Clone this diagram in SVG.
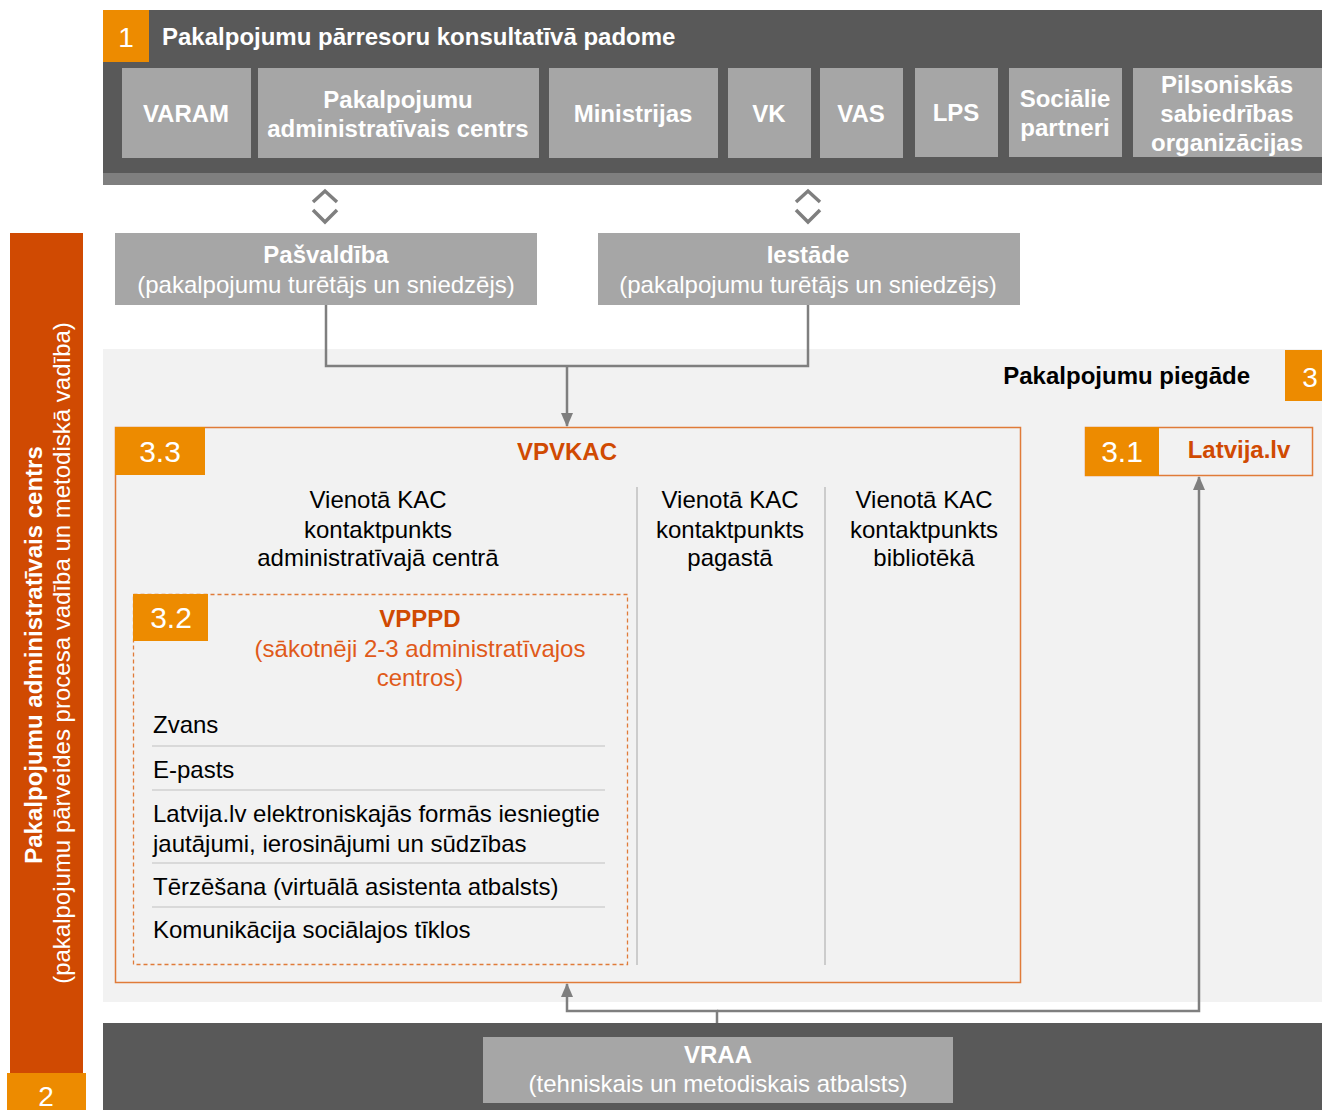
<svg xmlns="http://www.w3.org/2000/svg" width="1322" height="1110" viewBox="0 0 1322 1110">
<defs>
<style>
text{font-family:"Liberation Sans",Arial,sans-serif;}
.wb{fill:#fff;font-weight:bold;font-size:24px;text-anchor:middle;}
.wr{fill:#fff;font-size:24px;text-anchor:middle;}
.num{fill:#fff;font-size:30px;text-anchor:middle;}
.box{fill:#a6a6a6;}
.blk{fill:#000;font-size:24px;}
.org{fill:#d04a02;font-size:24px;text-anchor:middle;}
.conn{fill:none;stroke:#7f7f7f;stroke-width:2.5;}
.chev{fill:none;stroke:#7f7f7f;stroke-width:3.5;}
.sep{stroke:#d9d9d9;stroke-width:2;}
.div{stroke:#bfbfbf;stroke-width:1.5;}
</style>
<marker id="ah" viewBox="0 0 14 12" refX="13" refY="6" markerWidth="14" markerHeight="12" markerUnits="userSpaceOnUse" orient="auto">
<path d="M0,0 L14,6 L0,12 z" fill="#7f7f7f"/>
</marker>
</defs>
<rect width="1322" height="1110" fill="#fff"/>

<g id="n1">
<rect x="103" y="10" width="1219" height="163" fill="#595959"/>
<rect x="103" y="173" width="1219" height="12" fill="#7f7f7f"/>
<rect x="103" y="10" width="46" height="52" fill="#ed8b00"/>
<text class="num" x="126" y="47" style="font-size:28px">1</text>
<text x="162" y="45" style="fill:#fff;font-weight:bold;font-size:24px">Pakalpojumu pārresoru konsultatīvā padome</text>
</g>
<g id="n1-varam"><rect class="box" x="122" y="68" width="129" height="90"/><text class="wb" x="186" y="122">VARAM</text></g>
<g id="n1-pac"><rect class="box" x="258" y="68" width="281" height="90"/><text class="wb" x="398" y="108">Pakalpojumu</text><text class="wb" x="398" y="137">administratīvais centrs</text></g>
<g id="n1-min"><rect class="box" x="549" y="68" width="169" height="90"/><text class="wb" x="633" y="122">Ministrijas</text></g>
<g id="n1-vk"><rect class="box" x="728" y="68" width="83" height="90"/><text class="wb" x="769" y="122">VK</text></g>
<g id="n1-vas"><rect class="box" x="820" y="68" width="83" height="90"/><text class="wb" x="861" y="122">VAS</text></g>
<g id="n1-lps"><rect class="box" x="915" y="68" width="83" height="89"/><text class="wb" x="956" y="121">LPS</text></g>
<g id="n1-soc"><rect class="box" x="1009" y="68" width="113" height="89"/><text class="wb" x="1065" y="107">Sociālie</text><text class="wb" x="1065" y="136">partneri</text></g>
<g id="n1-pso"><rect class="box" x="1133" y="68" width="189" height="89"/><text class="wb" x="1227" y="93">Pilsoniskās</text><text class="wb" x="1227" y="122">sabiedrības</text><text class="wb" x="1227" y="151">organizācijas</text></g>

<g id="n2">
<rect x="10" y="233" width="73" height="877" fill="#d04a02"/>
<rect x="7" y="1073" width="79" height="37" fill="#ed8b00"/>
<text class="num" x="46" y="1106" style="font-size:28px">2</text>
<text class="wb" transform="translate(42,655) rotate(-90)">Pakalpojumu administratīvais centrs</text>
<text class="wr" transform="translate(70,653) rotate(-90)">(pakalpojumu pārveides procesa vadība un metodiskā vadība)</text>
</g>

<g id="n-pasv"><rect class="box" x="115" y="233" width="422" height="72"/><text class="wb" x="326" y="263">Pašvaldība</text><text class="wr" x="326" y="293">(pakalpojumu turētājs un sniedzējs)</text></g>
<g id="n-iest"><rect class="box" x="598" y="233" width="422" height="72"/><text class="wb" x="808" y="263">Iestāde</text><text class="wr" x="808" y="293">(pakalpojumu turētājs un sniedzējs)</text></g>

<g id="n3">
<rect x="103" y="349" width="1219" height="653" fill="#f2f2f2"/>
<text x="1250" y="384" style="fill:#000;font-weight:bold;font-size:24px;text-anchor:end">Pakalpojumu piegāde</text>
<rect x="1285" y="350" width="37" height="51" fill="#ed8b00"/>
<text class="num" x="1310" y="387" style="font-size:28px">3</text>
</g>

<g id="n33">
<rect x="115.5" y="427.5" width="905" height="555" fill="#f2f2f2" stroke="#e07b39" stroke-width="1.5"/>
<rect x="115" y="427" width="90" height="48" fill="#ed8b00"/>
<text class="num" x="160" y="462">3.3</text>
<text class="org" x="567" y="460" style="font-weight:bold">VPVKAC</text>
<line class="div" x1="637" y1="487" x2="637" y2="965"/>
<line class="div" x1="825" y1="487" x2="825" y2="965"/>
<text class="blk" x="378" y="508" text-anchor="middle">Vienotā KAC</text>
<text class="blk" x="378" y="538" text-anchor="middle">kontaktpunkts</text>
<text class="blk" x="378" y="566" text-anchor="middle">administratīvajā centrā</text>
<text class="blk" x="730" y="508" text-anchor="middle">Vienotā KAC</text>
<text class="blk" x="730" y="538" text-anchor="middle">kontaktpunkts</text>
<text class="blk" x="730" y="566" text-anchor="middle">pagastā</text>
<text class="blk" x="924" y="508" text-anchor="middle">Vienotā KAC</text>
<text class="blk" x="924" y="538" text-anchor="middle">kontaktpunkts</text>
<text class="blk" x="924" y="566" text-anchor="middle">bibliotēkā</text>
</g>

<g id="n32">
<rect x="133.5" y="594.5" width="494" height="370" fill="none" stroke="#e07b39" stroke-width="1.3" stroke-dasharray="4,3"/>
<rect x="133" y="594" width="75" height="47" fill="#ed8b00"/>
<text class="num" x="171" y="628">3.2</text>
<text class="org" x="420" y="627" style="font-weight:bold">VPPPD</text>
<text class="org" x="420" y="657" style="fill:#e05a1a">(sākotnēji 2-3 administratīvajos</text>
<text class="org" x="420" y="686" style="fill:#e05a1a">centros)</text>
<text class="blk" x="153" y="733">Zvans</text>
<line class="sep" x1="152" y1="746" x2="605" y2="746"/>
<text class="blk" x="153" y="778">E-pasts</text>
<line class="sep" x1="152" y1="790" x2="605" y2="790"/>
<text class="blk" x="153" y="822">Latvija.lv elektroniskajās formās iesniegtie</text>
<text class="blk" x="153" y="852">jautājumi, ierosinājumi un sūdzības</text>
<line class="sep" x1="152" y1="863" x2="605" y2="863"/>
<text class="blk" x="153" y="895">Tērzēšana (virtuālā asistenta atbalsts)</text>
<line class="sep" x1="152" y1="907" x2="605" y2="907"/>
<text class="blk" x="153" y="938">Komunikācija sociālajos tīklos</text>
</g>

<g id="n31">
<rect x="1085.5" y="427.5" width="227" height="48" fill="#f2f2f2" stroke="#e07b39" stroke-width="1.5"/>
<rect x="1085" y="427" width="74" height="49" fill="#ed8b00"/>
<text class="num" x="1122" y="462">3.1</text>
<text class="org" x="1239" y="458" style="font-weight:bold">Latvija.lv</text>
</g>

<g id="n4">
<rect x="103" y="1023" width="1219" height="87" fill="#595959"/>
<rect class="box" x="483" y="1037" width="470" height="66"/>
<text class="wb" x="718" y="1063">VRAA</text>
<text class="wr" x="718" y="1092">(tehniskais un metodiskais atbalsts)</text>
</g>

<g id="connectors">
<polyline class="chev" points="313,202 325,191 337,202"/>
<polyline class="chev" points="313,210 325,222 337,210"/>
<polyline class="chev" points="796,202 808,191 820,202"/>
<polyline class="chev" points="796,210 808,222 820,210"/>
<polyline class="conn" points="326,305 326,366 808,366 808,305"/>
<line class="conn" x1="567" y1="366" x2="567" y2="426" marker-end="url(#ah)"/>
<polyline class="conn" points="717,1023 717,1011 567,1011 567,984" marker-end="url(#ah)"/>
<polyline class="conn" points="717,1011 1199,1011 1199,477" marker-end="url(#ah)"/>
</g>
</svg>
